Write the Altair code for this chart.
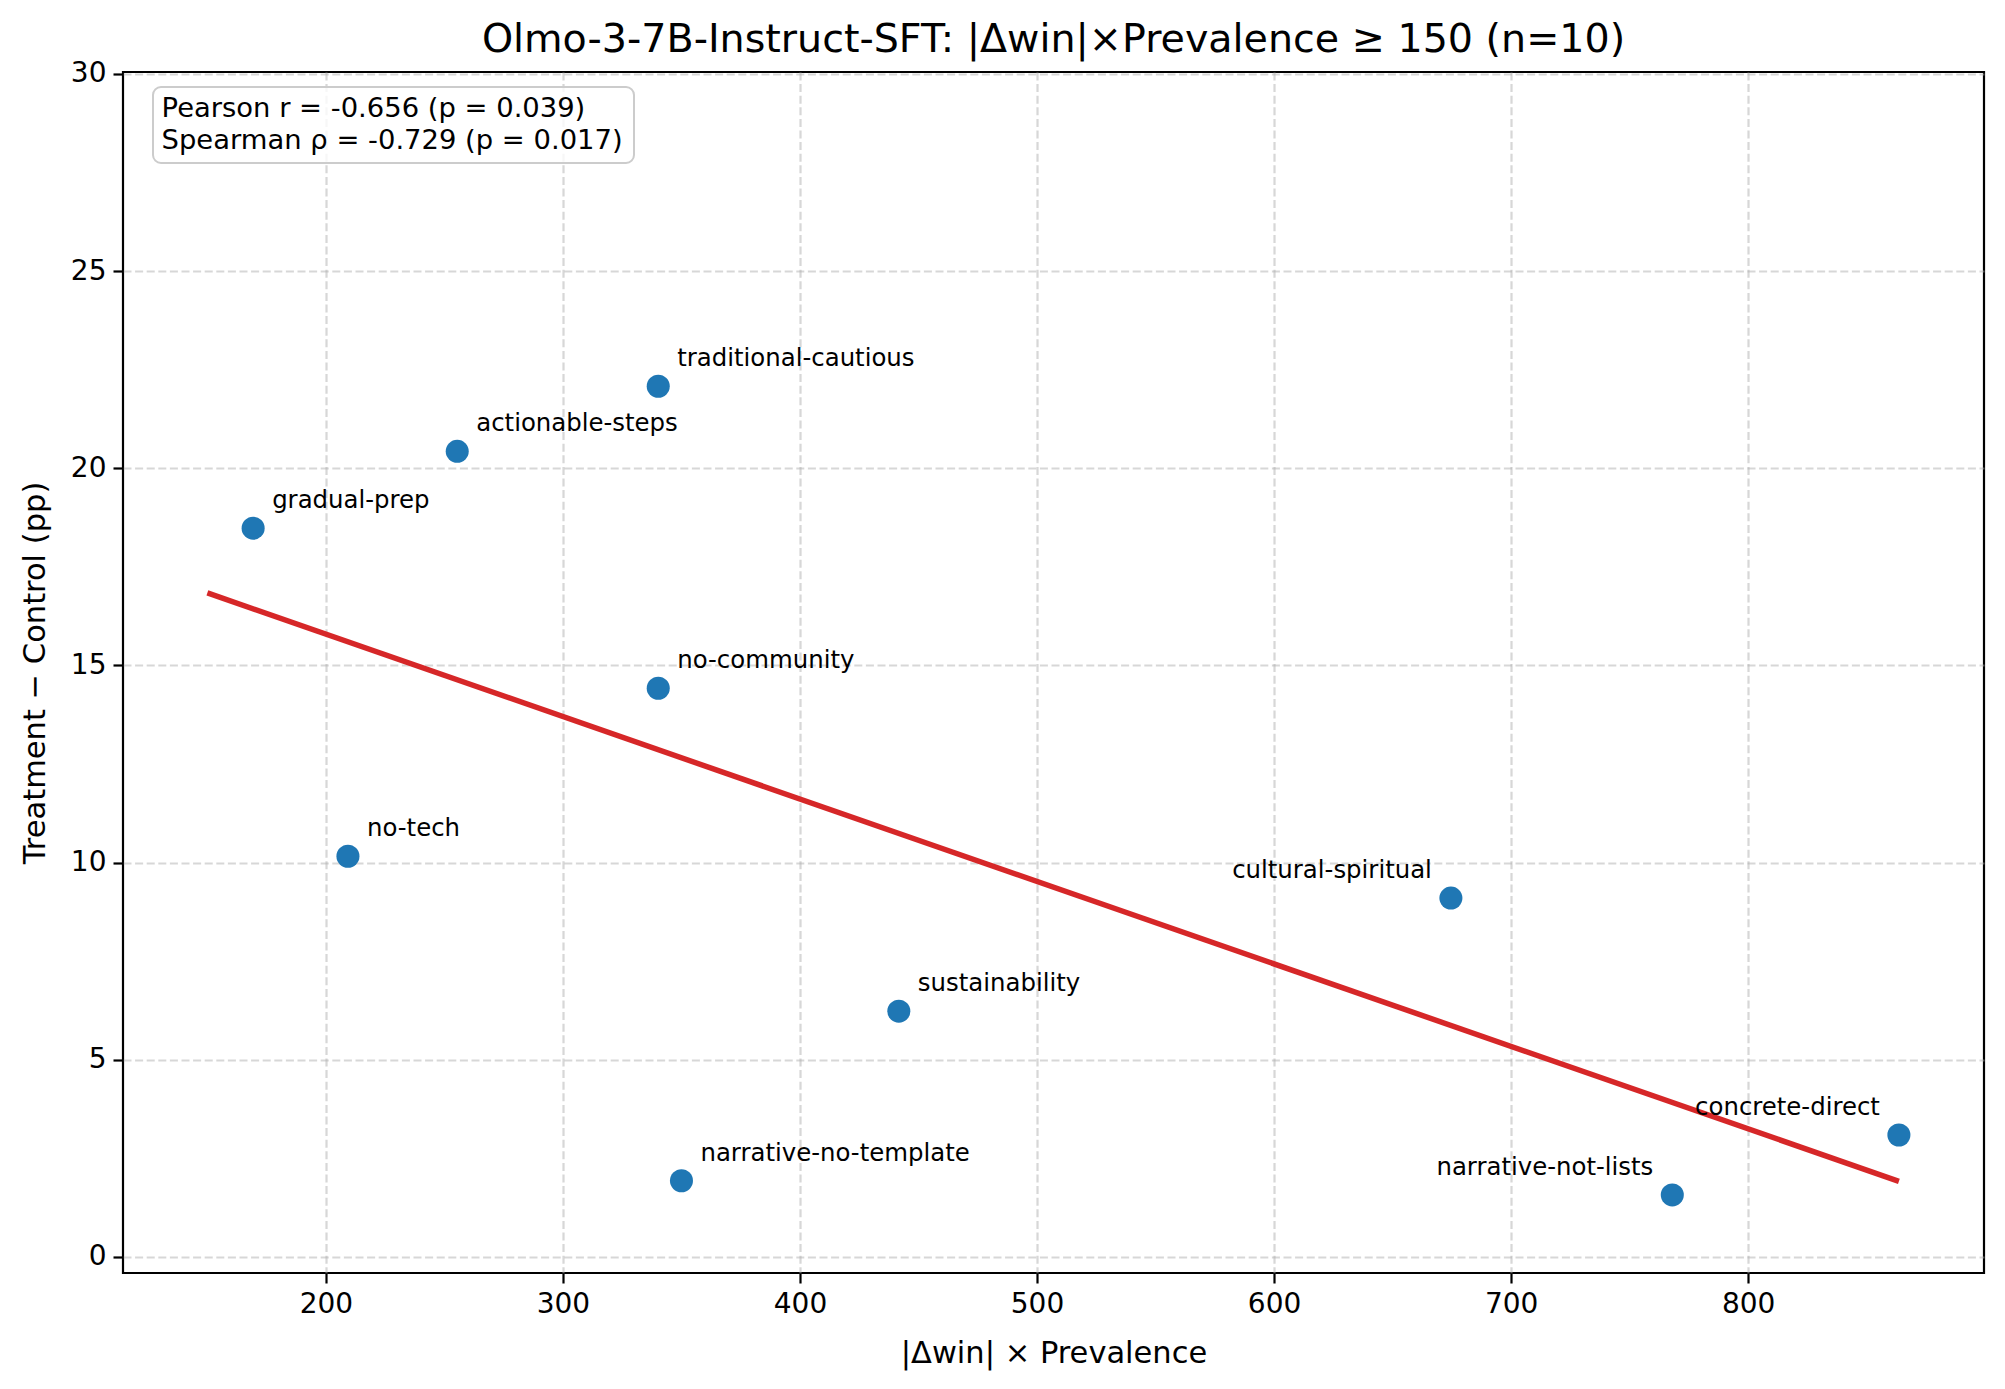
import altair as alt
import pandas as pd

# scores per style dimension
names = [
    "gradual-prep", "actionable-steps", "traditional-cautious", "no-community",
    "no-tech", "sustainability", "narrative-no-template", "cultural-spiritual",
    "narrative-not-lists", "concrete-direct",
]
impact = [169.3, 255.4, 340.2, 340.2, 209.3, 441.7, 350.0, 674.6, 768.0, 863.6]
diff_pp = [18.48, 20.43, 22.08, 14.42, 10.16, 6.23, 1.93, 9.10, 1.57, 3.09]
# labels drawn to the left of their point
left_side = ["cultural-spiritual", "narrative-not-lists", "concrete-direct"]

threshold = 150
stats_lines = ["Pearson r = -0.656 (p = 0.039)", "Spearman ρ = -0.729 (p = 0.017)"]

x_ticks = [200, 300, 400, 500, 600, 700, 800]
y_ticks = [0, 5, 10, 15, 20, 25, 30]

df = pd.DataFrame({"name": names, "x": impact, "y": diff_pp})
df["side"] = ["left" if n in left_side else "right" for n in names]

FONT = "DejaVu Sans"
W, H = 1861, 1201

x_enc = alt.X(
    "x:Q",
    scale=alt.Scale(domain=[114.4, 899.5], nice=False, zero=False),
    axis=alt.Axis(values=x_ticks, title="|Δwin| × Prevalence", titleY=89, titleBaseline="alphabetic"),
)
y_enc = alt.Y(
    "y:Q",
    scale=alt.Scale(domain=[-0.41, 30.05], nice=False, zero=False),
    axis=alt.Axis(values=y_ticks, title="Treatment − Control (pp)", titleX=-79,
                  titleAngle=-90, titleBaseline="alphabetic"),
)

base = alt.Chart(df)

fit = (
    base.transform_regression("x", "y", extent=[threshold, max(impact)])
    .mark_line(color="#d62728", strokeWidth=5.5)
    .encode(x=x_enc, y=y_enc)
)

points = base.mark_circle(size=531, color="#1f77b4", opacity=1).encode(x="x:Q", y="y:Q")

labels_r = (
    base.transform_filter(alt.datum.side == "right")
    .mark_text(align="left", baseline="alphabetic", dx=19, dy=-20, fontSize=24.4, font=FONT, color="black")
    .encode(x="x:Q", y="y:Q", text="name:N")
)
labels_l = (
    base.transform_filter(alt.datum.side == "left")
    .mark_text(align="right", baseline="alphabetic", dx=-19, dy=-20, fontSize=24.4, font=FONT, color="black")
    .encode(x="x:Q", y="y:Q", text="name:N")
)

stats_df = pd.DataFrame({"txt": ["\n".join(stats_lines)]})
box = (
    alt.Chart(stats_df)
    .mark_rect(fill="white", fillOpacity=0.8, stroke="#cccccc", strokeWidth=2, cornerRadius=8)
    .encode(x=alt.value(30), x2=alt.value(511), y=alt.value(15), y2=alt.value(91))
)
stats = (
    alt.Chart(stats_df)
    .mark_text(align="left", baseline="alphabetic", fontSize=27.4, font=FONT, color="black",
               lineBreak="\n", lineHeight=32.5)
    .encode(x=alt.value(38.6), y=alt.value(44.7), text="txt:N")
)

chart = (
    alt.layer(fit, points, labels_r, labels_l, box, stats)
    .properties(
        width=W,
        height=H,
        autosize=alt.AutoSizeParams(type="none"),
        padding={"left": 115, "top": 64, "right": 12, "bottom": 100},
        title=alt.TitleParams(
            "Olmo-3-7B-Instruct-SFT: |Δwin|×Prevalence ≥ 150 (n=10)",
            fontSize=39.6, font=FONT, fontWeight="normal", anchor="middle",
            baseline="alphabetic", offset=6, dy=38, color="black",
        ),
    )
    .configure(background="white")
    .configure_view(stroke="black", strokeWidth=2.2)
    .configure_axis(
        labelFont=FONT, titleFont=FONT, labelFontSize=28, titleFontSize=30.5,
        labelColor="black", titleColor="black", titleFontWeight="normal",
        domain=False, tickColor="black", tickWidth=2.2, tickSize=10,
        labelPadding=7, grid=True, gridColor="#b0b0b0", gridOpacity=0.5,
        gridWidth=2.2, gridDash=[8, 3.6],
    )
)

chart.save("out.html", embed_options={"renderer": "svg", "actions": False})
